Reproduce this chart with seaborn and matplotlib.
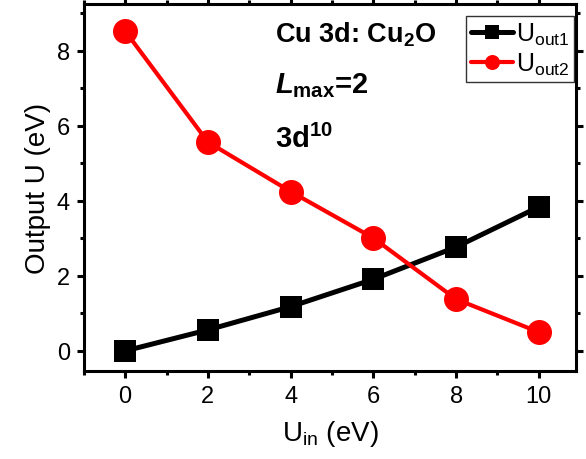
import numpy as np
import matplotlib
matplotlib.use("Agg")
import matplotlib.pyplot as plt
import pandas as pd
import seaborn as sns
from matplotlib.ticker import MultipleLocator

u_in = [0, 2, 4, 6, 8, 10]
u_out1 = [0.0, 0.56, 1.18, 1.91, 2.77, 3.84]
u_out2 = [8.53, 5.57, 4.25, 3.01, 1.38, 0.50]
series_labels = [r"U$_\mathregular{out1}$", r"U$_\mathregular{out2}$"]
x_ticks = [0, 2, 4, 6, 8, 10]
y_ticks = [0, 2, 4, 6, 8]

sns.set_style("ticks")
plt.rcParams["font.family"] = ["Liberation Sans", "DejaVu Sans"]
plt.rcParams["mathtext.fontset"] = "custom"
plt.rcParams["mathtext.rm"] = "Liberation Sans"
plt.rcParams["mathtext.bf"] = "Liberation Sans:bold"
plt.rcParams["mathtext.it"] = "Liberation Sans:italic:bold"
for k in ["text.color", "axes.labelcolor", "axes.edgecolor", "xtick.color", "ytick.color"]:
    plt.rcParams[k] = "black"

df1 = pd.DataFrame({"Uin": u_in, "U": u_out1})
df2 = pd.DataFrame({"Uin": u_in, "U": u_out2})

fig = plt.figure(figsize=(5.86, 4.6), dpi=100)
ax = fig.add_axes([0.143, 0.191, 0.840, 0.798])

sns.lineplot(data=df1, x="Uin", y="U", ax=ax, color="black", marker="s",
             markersize=16, linewidth=3.6, markeredgewidth=0, label=series_labels[0])
sns.lineplot(data=df2, x="Uin", y="U", ax=ax, color="#ff0000", marker="o",
             markersize=18, linewidth=3.0, markeredgewidth=0, label=series_labels[1])

ax.set_xlim(-1.0, 10.9)
ax.set_ylim(-0.54, 9.25)
ax.set_xticks(x_ticks)
ax.set_yticks(y_ticks)
ax.xaxis.set_minor_locator(MultipleLocator(1))
ax.yaxis.set_minor_locator(MultipleLocator(1))
ax.tick_params(which="both", direction="out", top=True, right=True, width=2.2)
ax.tick_params(which="major", length=5, labelsize=17, pad=5)
ax.tick_params(which="minor", length=3)
for s in ax.spines.values():
    s.set_linewidth(2.2)
    s.set_visible(True)

ax.set_xlabel(r"U$_\mathregular{in}$ (eV)", fontsize=20, labelpad=8)
ax.set_ylabel("Output U (eV)", fontsize=20)

ax.text(0.388, 0.899, r"Cu 3d: Cu$_\mathbf{2}$O", transform=ax.transAxes,
        fontsize=19.5, fontweight="bold")
ax.text(0.388, 0.759, r"$L_\mathbf{max}$=2", transform=ax.transAxes,
        fontsize=21, fontweight="bold")
ax.text(0.388, 0.61, r"3d$^\mathbf{10}$", transform=ax.transAxes,
        fontsize=21, fontweight="bold")

leg = ax.legend(loc="upper right", bbox_to_anchor=(0.996, 0.967), fontsize=18,
                frameon=True, fancybox=False, edgecolor="black", markerscale=0.6,
                handlelength=1.7, handletextpad=0.1, borderpad=0.2,
                labelspacing=0.15, borderaxespad=0)
leg.get_frame().set_linewidth(1.0)

fig.savefig("out.png", dpi=100)
